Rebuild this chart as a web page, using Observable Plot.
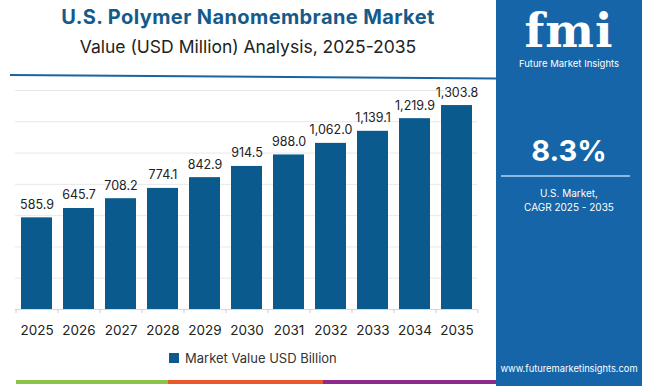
<!DOCTYPE html>
<html><head><meta charset="utf-8">
<script src="https://cdn.jsdelivr.net/npm/d3@7"></script>
<script src="https://cdn.jsdelivr.net/npm/@observablehq/plot@0.6"></script>
<style>
body{margin:0;width:650px;height:386px;overflow:hidden;background:#fff;font-family:Inter,"Open Sans",sans-serif;position:relative}
.abs{position:absolute}
#title{left:0;width:496px;top:5px;text-align:center;font-weight:700;font-size:20px;letter-spacing:0.4px;color:#155a8a}
#sub{left:0;width:496px;top:36px;text-align:center;font-size:17.5px;color:#222}
#rule{left:10px;top:74px;width:486px;height:2px;background:#1a64a0;transform:rotate(0.4deg);transform-origin:left}
#chart{left:0;top:80px}
#legend{left:169px;top:350px;font-size:13px;color:#333;display:flex;align-items:center}
#legend span.sw{width:10px;height:10px;background:#0b5a8e;display:inline-block;margin-right:6px}
#panel{left:496px;top:0;width:146px;height:386px;background:#1565a8;color:#fff;text-align:center}
</style></head><body>
<div id="title" class="abs">U.S. Polymer Nanomembrane Market</div>
<div id="sub" class="abs">Value (USD Million) Analysis, 2025-2035</div>
<div id="rule" class="abs"></div>
<div id="chart" class="abs"></div>
<div id="legend" class="abs"><span class="sw"></span>Market Value USD Billion</div>
<div class="abs" style="left:16px;width:152px;background:#8bc34a;top:380px;height:4px"></div>
<div class="abs" style="left:168px;width:155px;background:#e8582a;top:380px;height:4px"></div>
<div class="abs" style="left:323px;width:180px;background:#8e2a8e;top:380px;height:4px"></div>
<div id="panel" class="abs">
  <div class="abs" style="left:0;width:146px;top:6px;font-family:'DejaVu Serif',serif;font-weight:900;font-size:46px;line-height:50px;letter-spacing:1px">fmi</div>
  <div class="abs" style="left:0;width:146px;top:58px;font-size:9.5px">Future Market Insights</div>
  <div class="abs" style="left:0;width:146px;top:133px;font-size:29px;font-weight:700">8.3%</div>
  <div class="abs" style="left:5px;width:129px;top:175px;height:2px;background:#8fb8e0"></div>
  <div class="abs" style="left:0;width:146px;top:186px;font-size:10px;line-height:14px">U.S. Market,<br>CAGR 2025 - 2035</div>
  <div class="abs" style="left:0;width:146px;top:363px;font-size:9.3px">www.futuremarketinsights.com</div>
</div>
<div class="abs" style="left:642px;top:0;width:8px;height:386px;background:#fff"></div>
<script>
const years = ["2025","2026","2027","2028","2029","2030","2031","2032","2033","2034","2035"];
const values = [585.9,645.7,708.2,774.1,842.9,914.5,988.0,1062.0,1139.1,1219.9,1303.8];
const yTicks = [0,200,400,600,800,1000,1200,1400];
const data = years.map((y,i)=>({year:y,value:values[i]}));
const fmt = d3.format(",.1f");
const W = 496, ML = 15, MR = 19;
const half = (W - ML - MR) / years.length / 2;
const chart = Plot.plot({
  width:W, height:264,
  marginTop:10, marginBottom:35, marginLeft:ML, marginRight:MR,
  style:{fontFamily:"Inter, 'Open Sans', sans-serif", fontSize:"13px", color:"#222", background:"transparent"},
  x:{domain:years, paddingInner:0.27, paddingOuter:0.135, label:null},
  y:{domain:[0,1400], ticks:yTicks, axis:null},
  marks:[
    Plot.gridY(yTicks.slice(1), {stroke:"#e8e8e8", strokeOpacity:1}),
    Plot.ruleY([0], {stroke:"#d8d8d8"}),
    Plot.barY(data, {x:"year", y:"value", fill:"#0b5a8e"}),
    Plot.text(data, {x:"year", y:"value", text:d=>fmt(d.value), dy:-13, fontSize:12.5, fill:"#222"}),
    Plot.axisX({tickSize:4, stroke:"#ccc", text:null, dx:-half}),
    Plot.axisX({ticks:[years[years.length-1]], tickSize:4, stroke:"#ccc", text:null, dx:half}),
    Plot.axisX({tickSize:0, tickPadding:16, fontSize:13.5, fill:"#222"})
  ]
});
document.getElementById("chart").appendChild(chart);
</script>
</body></html>
